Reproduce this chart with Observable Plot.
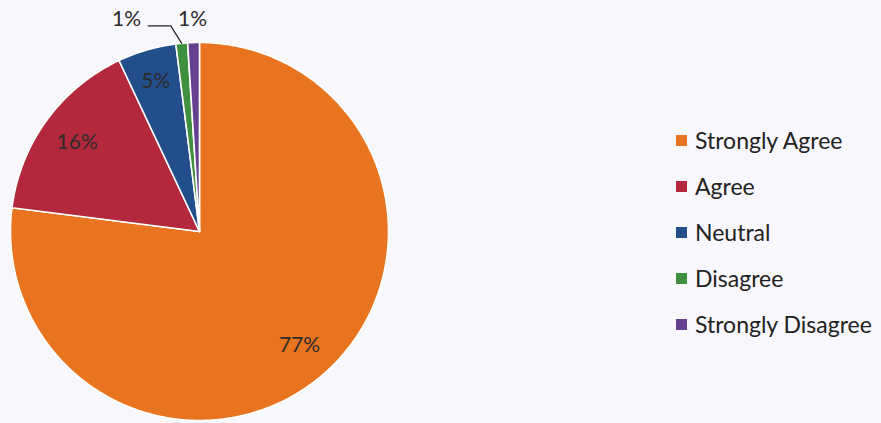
<!DOCTYPE html>
<html><head><meta charset="utf-8">
<script src="https://cdn.jsdelivr.net/npm/d3@7"></script>
<script src="https://cdn.jsdelivr.net/npm/@observablehq/plot@0.6"></script>
<style>
html,body{margin:0;padding:0;background:#f8f7fb;}
#wrap{position:relative;width:881px;height:423px;overflow:hidden;}
#legend{position:absolute;left:676px;top:0;font-family:Lato,sans-serif;font-size:23px;color:#222;}
.row{position:absolute;left:0;display:flex;align-items:center;white-space:nowrap;}
.sw{width:11px;height:11px;margin-right:8px;}
</style></head>
<body><div id="wrap"><div id="legend"></div></div>
<script>
const categories = ["Strongly Agree", "Agree", "Neutral", "Disagree", "Strongly Disagree"];
const values = [77, 16, 5, 1, 1];
const colors = ["#e8741f", "#b3283c", "#234e8c", "#3e8f3e", "#66418f"];
const labels = ["77%", "16%", "5%", "1%", "1%"];

const total = d3.sum(values);
// slice angles clockwise from top
let acc = 0;
const slices = categories.map((c, i) => {
  const a0 = acc / total * 2 * Math.PI;
  acc += values[i];
  const a1 = acc / total * 2 * Math.PI;
  return {cat: c, a0, a1, value: values[i], label: labels[i], color: colors[i]};
});
const pt = (a, r) => ({x: r * Math.sin(a), y: r * Math.cos(a)});

const polys = [];
slices.forEach(s => {
  polys.push({cat: s.cat, ...pt(0, 0)});
  const n = Math.max(4, Math.ceil((s.a1 - s.a0) / (Math.PI / 360)));
  for (let k = 0; k <= n; k++) polys.push({cat: s.cat, ...pt(s.a0 + (s.a1 - s.a0) * k / n, 1)});
  polys.push({cat: s.cat, ...pt(0, 0)});
});

// inside labels at 0.8 radius, outer labels manually placed like the original
const inner = slices.slice(0, 3).map(s => ({label: s.label, ...pt((s.a0 + s.a1) / 2, s.cat === "Neutral" ? 0.83 : 0.8)}));
const outer = [
  {label: slices[3].label, x: -0.386, y: 1.125},
  {label: slices[4].label, x: -0.037, y: 1.125}
];
const g = slices[3];
const gEdge = pt((g.a0 + g.a1) / 2, 1);
const leader = [{x: -0.272, y: 1.088}, {x: -0.152, y: 1.088}, gEdge];

const chart = Plot.plot({
  width: 881, height: 423,
  margin: 0,
  style: {background: "transparent", overflow: "visible"},
  x: {domain: [-1, 1], range: [10, 388], axis: null},
  y: {domain: [-1, 1], range: [420, 42], axis: null},
  color: {domain: categories, range: colors},
  marks: [
    Plot.line(polys, {x: "x", y: "y", z: "cat", fill: "cat", stroke: "white", strokeWidth: 1.6, strokeLinejoin: "round", curve: "linear"}),
    Plot.text(inner, {x: "x", y: "y", text: "label", fontSize: 21, fill: "#2b2b2b", fontFamily: "Lato, sans-serif"}),
    Plot.text(outer, {x: "x", y: "y", text: "label", fontSize: 21, fill: "#2b2b2b", fontFamily: "Lato, sans-serif"}),
    Plot.line(leader, {x: "x", y: "y", stroke: "#222", strokeWidth: 1.2})
  ]
});
const wrap = document.getElementById("wrap");
wrap.insertBefore(chart, wrap.firstChild);

const legend = document.getElementById("legend");
const rowY = [140, 186, 232, 278, 324];
categories.forEach((c, i) => {
  const row = document.createElement("div");
  row.className = "row";
  row.style.top = (rowY[i] - 14) + "px";
  row.style.height = "28px";
  const sw = document.createElement("div");
  sw.className = "sw";
  sw.style.background = colors[i];
  const t = document.createElement("span");
  t.textContent = c;
  row.appendChild(sw); row.appendChild(t);
  legend.appendChild(row);
});
</script></body></html>
